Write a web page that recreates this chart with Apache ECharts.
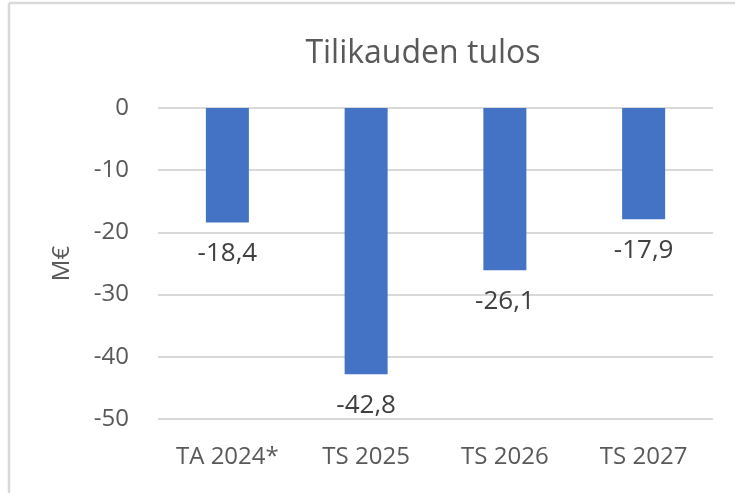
<!DOCTYPE html>
<html><head><meta charset="utf-8">
<script src="https://cdn.jsdelivr.net/npm/echarts@6/dist/echarts.min.js"></script>
<style>html,body{margin:0;padding:0;background:#fff}#c{width:735px;height:493px}</style>
</head><body><div id="c"></div>
<script>
const categories = ['TA 2024*', 'TS 2025', 'TS 2026', 'TS 2027'];
const values = [-18.4, -42.8, -26.1, -17.9];
const yTicks = [0, -10, -20, -30, -40, -50];
const titleText = 'Tilikauden tulos';
const yName = 'M€';

const FONT = '"Open Sans", "Noto Sans", sans-serif';
const chart = echarts.init(document.getElementById('c'), null, {renderer: 'canvas'});
chart.setOption({
  animation: false,
  backgroundColor: '#fff',
  graphic: [
    {type: 'line', shape: {x1: 9, y1: 3, x2: 735, y2: 3}, style: {stroke: '#d9d9d9', lineWidth: 2.5}},
    {type: 'line', shape: {x1: 9, y1: 3, x2: 9, y2: 493}, style: {stroke: '#d9d9d9', lineWidth: 2.5}}
  ],
  title: {
    text: titleText, left: 418, textAlign: 'center', top: 33,
    textStyle: {fontFamily: FONT, fontSize: 32, fontWeight: 'normal', color: '#595959'}
  },
  grid: {left: 158, right: 22, top: 108, bottom: 74},
  xAxis: {
    type: 'category', data: categories,
    axisLine: {show: false}, axisTick: {show: false},
    axisLabel: {fontFamily: FONT, fontSize: 24, color: '#595959', margin: 26, interval: 0, hideOverlap: false}
  },
  yAxis: {
    type: 'value', min: Math.min(...yTicks), max: Math.max(...yTicks), interval: 10,
    name: yName, nameLocation: 'middle', nameGap: 84, nameRotate: 90,
    nameTextStyle: {fontFamily: FONT, fontSize: 24, color: '#595959'},
    axisLine: {show: false}, axisTick: {show: false},
    axisLabel: {fontFamily: FONT, fontSize: 24, color: '#595959', margin: 29},
    splitLine: {lineStyle: {color: '#d9d9d9', width: 2}}
  },
  series: [{
    type: 'bar', data: values, barWidth: 43,
    itemStyle: {color: '#4472C4'},
    label: {
      show: true, position: 'bottom', distance: 18,
      fontFamily: FONT, fontSize: 26, color: '#404040',
      formatter: p => String(p.value).replace('.', ',')
    }
  }]
});
</script></body></html>
